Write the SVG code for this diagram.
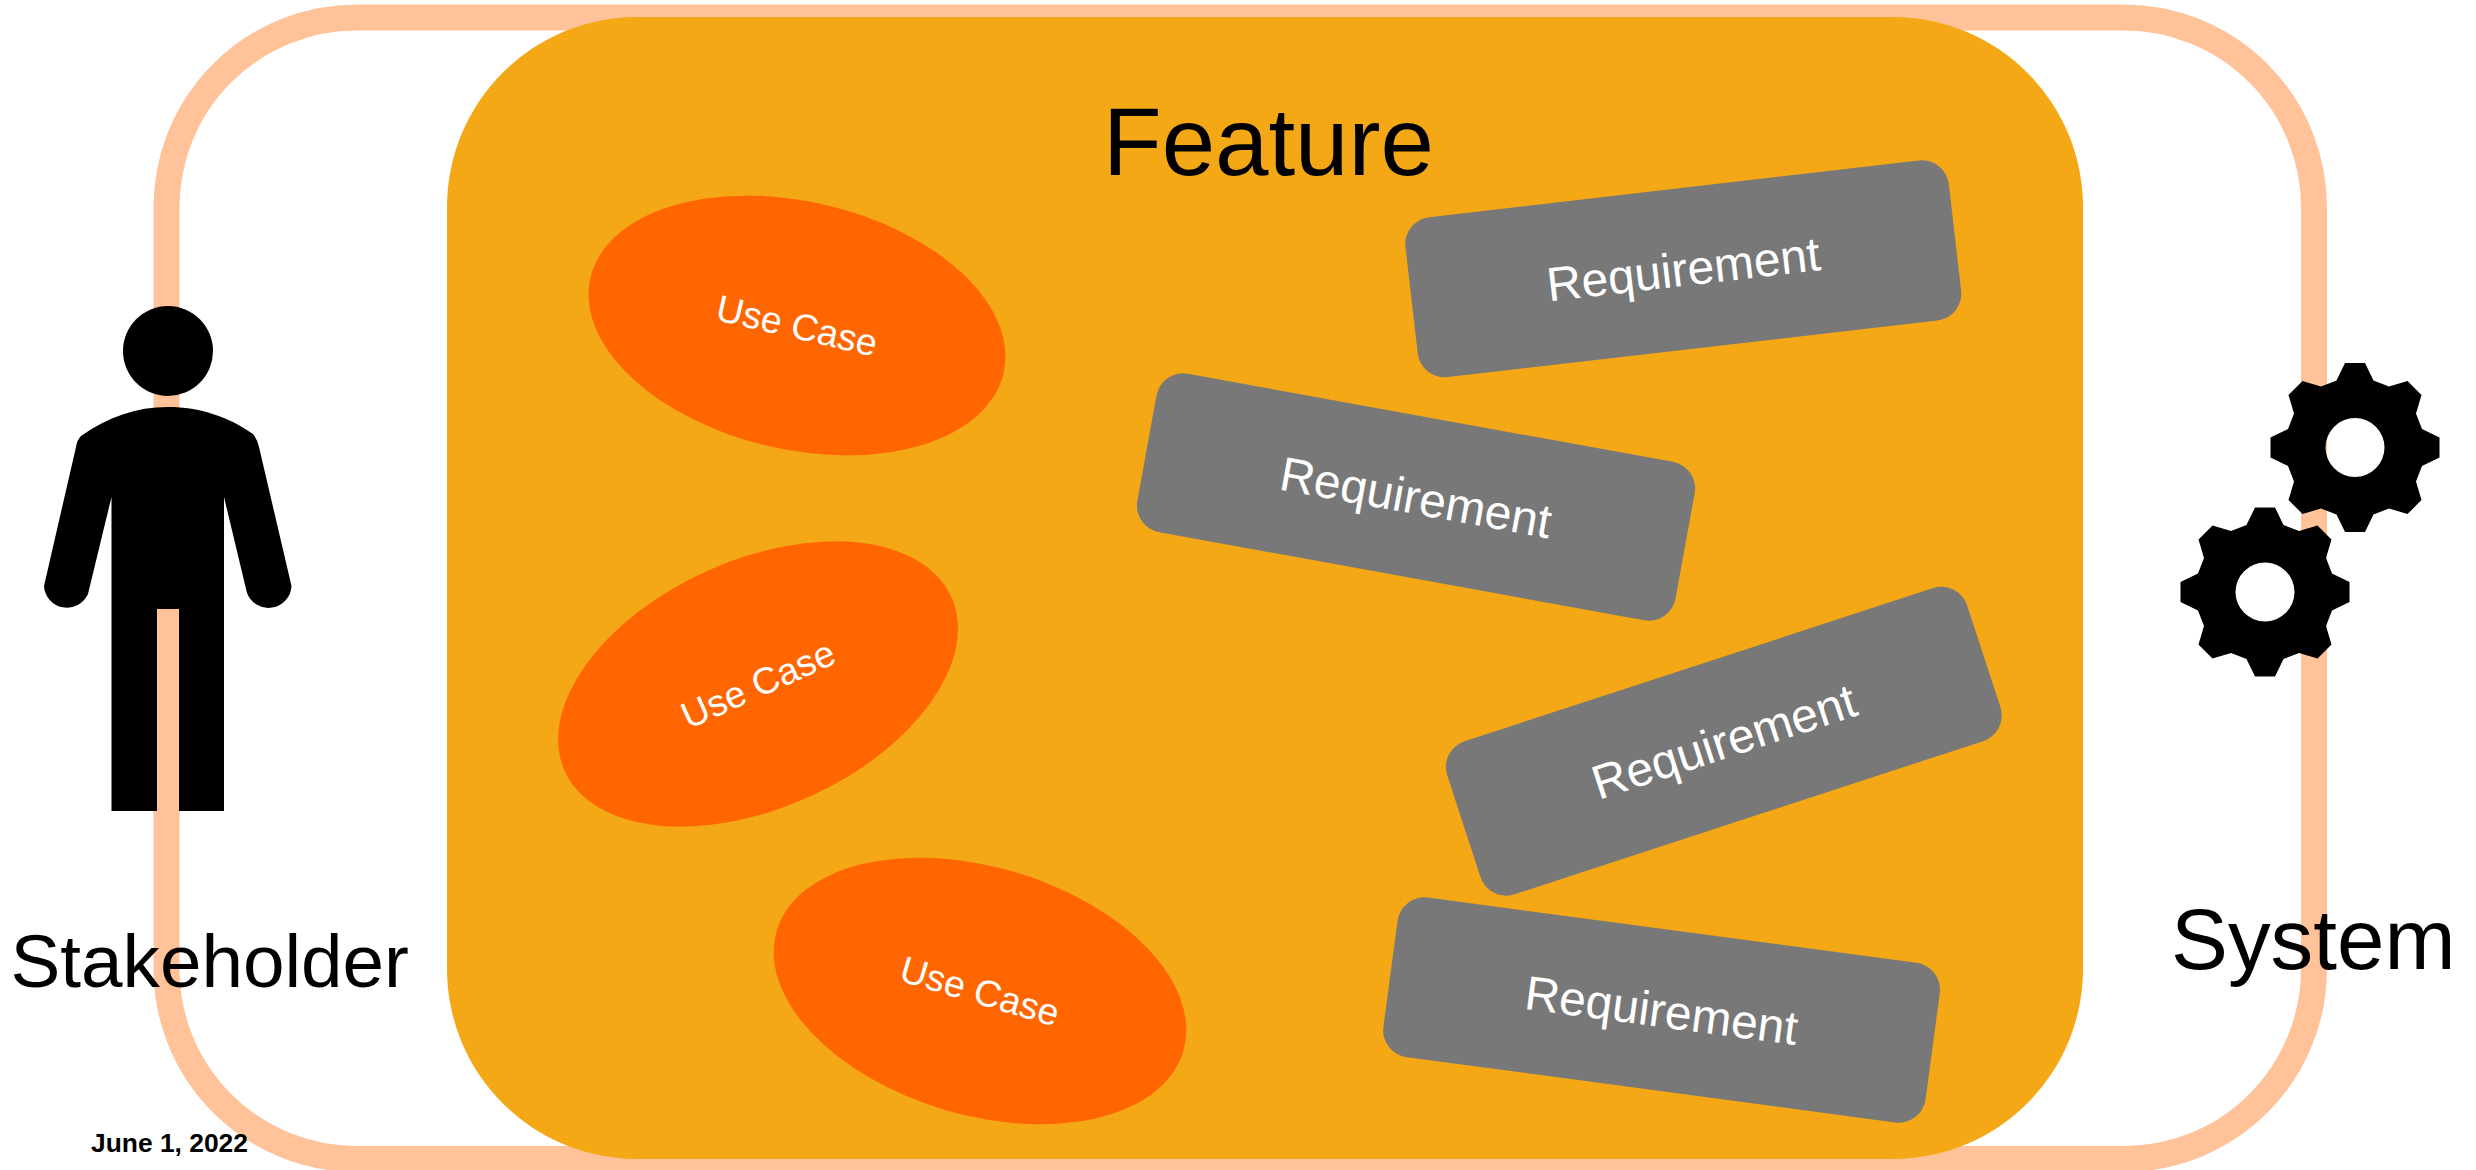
<svg xmlns="http://www.w3.org/2000/svg" xmlns:xlink="http://www.w3.org/1999/xlink" width="2476" height="1170" viewBox="0 0 2476 1170">
<style>
text{font-family:"Liberation Sans",Arial,sans-serif}
.lbl{fill:#000}
.req{fill:#787878}
.uc{fill:#FF6600}
.rt{fill:#fff;font-size:48px;text-anchor:middle}
.ut{fill:#fff;font-size:37.33px;text-anchor:middle}
.blk{fill:#000}
</style>
<defs>
<path id="gear" fill-rule="evenodd" d="M-10 -84.5L10 -84.5L18.5 -67L34 -61L52.5 -66.5L66.5 -52.5L61 -34L67 -18.5L84.5 -10L84.5 10L67 18.5L61 34L66.5 52.5L52.5 66.5L34 61L18.5 67L10 84.5L-10 84.5L-18.5 67L-34 61L-52.5 66.5L-66.5 52.5L-61 34L-67 18.5L-84.5 10L-84.5 -10L-67 -18.5L-61 -34L-66.5 -52.5L-52.5 -66.5L-34 -61L-18.5 -67ZM29.5 0A29.5 29.5 0 1 0 -29.5 0A29.5 29.5 0 1 0 29.5 0Z"/>
<rect id="reqbox" x="-273.5" y="-80.5" width="547" height="161" rx="27" ry="27"/>
<ellipse id="ucshape" rx="212" ry="124"/>
</defs>
<rect width="2476" height="1170" fill="#fff"/>
<g id="system-boundary"><rect x="166.5" y="17.5" width="2147.5" height="1141.5" rx="190" ry="190" fill="none" stroke="#FFC299" stroke-width="26"/></g>
<g id="feature">
<rect x="447" y="17" width="1636" height="1142" rx="190" ry="190" fill="#F4A816"/>
<text class="lbl" x="1103" y="175" font-size="96">Feature</text>
</g>
<g id="usecase-1" transform="translate(797 325.5) rotate(13)"><use href="#ucshape" class="uc"/><text class="ut" y="13">Use Case</text></g>
<g id="usecase-2" transform="translate(758 684) rotate(-24.2)"><use href="#ucshape" class="uc"/><text class="ut" y="13">Use Case</text></g>
<g id="usecase-3" transform="translate(980 991) rotate(16.5)"><use href="#ucshape" class="uc"/><text class="ut" y="13">Use Case</text></g>
<g id="requirement-1" transform="translate(1683.3 268.8) rotate(-6.6)"><use href="#reqbox" class="req"/><text class="rt" y="17">Requirement</text></g>
<g id="requirement-2" transform="translate(1416 497) rotate(10.3)"><use href="#reqbox" class="req"/><text class="rt" y="17">Requirement</text></g>
<g id="requirement-3" transform="translate(1723.8 741.2) rotate(-18.1)"><use href="#reqbox" class="req"/><text class="rt" y="17">Requirement</text></g>
<g id="requirement-4" transform="translate(1661.6 1010) rotate(7.6)"><use href="#reqbox" class="req"/><text class="rt" y="17">Requirement</text></g>
<g id="stakeholder">
<circle class="blk" cx="168" cy="351" r="45"/>
<path class="blk" d="M168 407C200 407 229 417 253 434Q257 439 259 447L291.5 586A23 23 0 0 1 247 593L224 497L224 811L179 811L179 609L157 609L157 811L111.5 811L111.5 497L88 594A23 23 0 0 1 44 586L76 447Q77 440 81 436C108 417 136 407 168 407Z"/>
<text class="lbl" x="10.5" y="987" font-size="74.67">Stakeholder</text>
</g>
<g id="system">
<use href="#gear" class="blk" x="2355" y="447.5"/>
<use href="#gear" class="blk" x="2265" y="592"/>
<text class="lbl" x="2171" y="969" font-size="85.33">System</text>
</g>
<g id="connectors"/>
<g id="date"><text class="lbl" x="91" y="1152" font-size="26.4" font-weight="700">June 1, 2022</text></g>
</svg>
